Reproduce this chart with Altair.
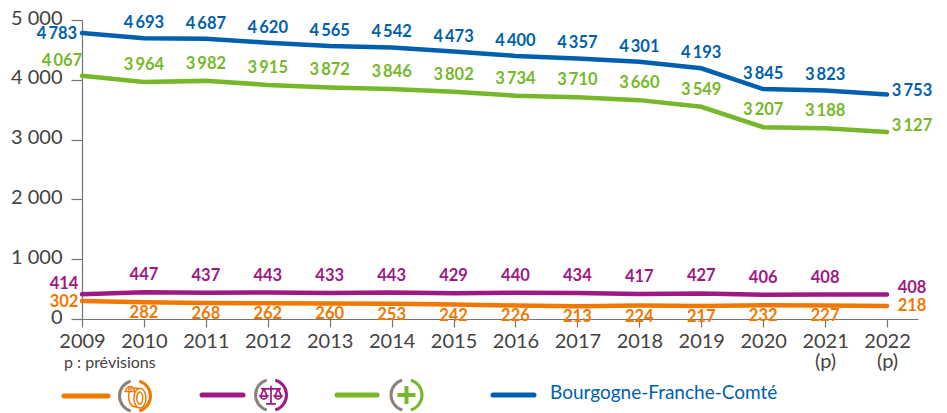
import altair as alt
import pandas as pd

years = list(range(2009, 2023))
bfc = [4783, 4693, 4687, 4620, 4565, 4542, 4473, 4400, 4357, 4301, 4193, 3845, 3823, 3753]
green = [4067, 3964, 3982, 3915, 3872, 3846, 3802, 3734, 3710, 3660, 3549, 3207, 3188, 3127]
purple = [414, 447, 437, 443, 433, 443, 429, 440, 434, 417, 427, 406, 408, 408]
orange = [302, 282, 268, 262, 260, 253, 242, 226, 213, 224, 217, 232, 227, 218]

FONT = "Lato"
C_BLUE, C_GREEN, C_PURPLE, C_ORANGE = "#0060ad", "#76b82a", "#9e1a82", "#f07800"
C_TEXT, C_AXIS, C_RING = "#454240", "#77736f", "#8c817a"

series = [
    (orange, C_ORANGE, 11, (-18, 1), (25, 0)),
    (purple, C_PURPLE, -17, (-18, -10), (25, -7)),
    (green, C_GREEN, -17, (-20, -15), (25, -6)),
    (bfc, C_BLUE, -15, (-25, 1), (25, -4)),
]

def fmt(v):
    return f"{v:,}".replace(",", "\u2009")

xscale = alt.Scale(domain=[2009, 2022.5], nice=False, zero=False)
yscale = alt.Scale(domain=[0, 5000], nice=False)

x_axis = alt.Axis(
    values=years, title=None, grid=False, labelFont=FONT, labelFontSize=20, labelColor=C_TEXT,
    domainColor=C_AXIS, tickColor=C_AXIS, tickSize=8, domainWidth=1.2, tickWidth=1.2,
    labelPadding=4, labelLineHeight=20, labelFlush=False, labelOverlap=False,
    labelExpr="datum.value >= 2021 ? [datum.value + '', '(p)'] : datum.value + ''",
)
y_axis = alt.Axis(
    values=[0, 1000, 2000, 3000, 4000, 5000], title=None, grid=False, labelFont=FONT,
    labelFontSize=20, labelColor=C_TEXT, domainColor=C_AXIS, tickColor=C_AXIS, tickSize=11,
    domainWidth=1.2, tickWidth=1.2, labelPadding=9, labelOffset=-2, labelFlush=False,
    labelExpr="replace(format(datum.value, ','), ',', ' ')",
)

layers = []
for vals, col, dy, first, last in series:
    df = pd.DataFrame({"year": years, "v": vals, "t": [fmt(v) for v in vals]})
    enc = dict(x=alt.X("year:Q", scale=xscale, axis=x_axis), y=alt.Y("v:Q", scale=yscale, axis=y_axis))
    layers.append(alt.Chart(df).mark_line(color=col, strokeWidth=4.5, strokeCap="round").encode(**enc))
    style = dict(font=FONT, fontSize=16.5, fontWeight="bold", color=col, baseline="middle")
    layers.append(alt.Chart(df.iloc[1:-1]).mark_text(dy=dy, **style).encode(text="t:N", **enc))
    layers.append(alt.Chart(df.iloc[[0]]).mark_text(dx=first[0], dy=first[1], **style).encode(text="t:N", **enc))
    layers.append(alt.Chart(df.iloc[[-1]]).mark_text(dx=last[0], dy=last[1], **style).encode(text="t:N", **enc))

# legend, placed in pixels relative to the plot origin (82, 20)
OX, OY = 82, 20
one = alt.Data(values=[{"a": 1}])

def px(v):
    return alt.value(v - OX)

def py(v):
    return alt.value(v - OY)

def swatch(x1, x2, y, col):
    return alt.Chart(one).mark_rule(color=col, strokeWidth=5, strokeCap="round").encode(
        x=px(x1), x2=px(x2), y=py(y))

def ring(cx, cy, col):
    out = []
    for t1, t2, c in [(0.28, 2.86, col), (3.42, 6.0, C_RING)]:
        out.append(alt.Chart(one).mark_arc(theta=t1, theta2=t2, radius=17, radius2=14, color=c)
                   .encode(x=px(cx), y=py(cy)))
    return out

def icon(cx, cy, path, col, size, sw=1.6, fill="transparent"):
    return alt.Chart(one).mark_point(shape=path, size=size, stroke=col, strokeWidth=sw, fill=fill, opacity=1).encode(
        x=px(cx), y=py(cy))

SCALE = ("M0 -0.85 L0 0.75 M-0.45 0.8 L0.45 0.8 M-0.9 -0.55 L0.9 -0.55 "
         "M-0.65 -0.55 L-0.95 0.1 M-0.65 -0.55 L-0.35 0.1 M-1 0.1 Q-0.65 0.65 -0.3 0.1 Z "
         "M0.65 -0.55 L0.95 0.1 M0.65 -0.55 L0.35 0.1 M1 0.1 Q0.65 0.65 0.3 0.1 Z")
TYRE = "M1 0.1 A0.55 0.9 0 1 1 -0.1 0.1 A0.55 0.9 0 1 1 1 0.1 Z M0.7 0.1 A0.27 0.55 0 1 1 0.16 0.1 A0.27 0.55 0 1 1 0.7 0.1 Z M0.3 -0.8 L-0.25 -0.8 A0.6 0.9 0 0 0 0 0.9 L0.4 1"
HELMET = "M-1 0.45 L1 0.45 M-0.8 0.4 A0.8 0.85 0 0 1 0.8 0.4 M-0.2 -0.4 L-0.2 0.2 M0.2 -0.4 L0.2 0.2"
PLUS = "M0 -1 L0 1 M-1 0 L1 0"

layers += [swatch(64, 108, 396, C_ORANGE), swatch(202, 243, 395, C_PURPLE),
           swatch(337, 377, 395, C_GREEN), swatch(493, 534, 395, C_BLUE)]
layers += ring(135, 396, C_ORANGE) + ring(271, 395, C_PURPLE) + ring(406.5, 395, C_GREEN)
layers += [
    icon(135, 397, TYRE, C_ORANGE, 480, 1.5),
    icon(130, 389, HELMET, C_ORANGE, 130, 1.3, "#fbd3ad"),
    icon(271, 395, SCALE, C_PURPLE, 484, 1.7),
    icon(406.5, 395, PLUS, C_GREEN, 324, 4),
]
layers.append(alt.Chart(one).mark_text(text="Bourgogne-Franche-Comté", font=FONT, fontSize=19, color=C_BLUE,
                                       align="left", baseline="middle").encode(x=px(550), y=py(393)))
layers.append(alt.Chart(one).mark_text(text="p : prévisions", font=FONT, fontSize=16, color=C_TEXT,
                                       align="left", baseline="middle").encode(x=px(64), y=py(363)))

chart = (
    alt.layer(*layers)
    .resolve_scale(x="shared", y="shared")
    .properties(
        width=836, height=299,
        autosize=alt.AutoSizeParams(type="none"),
        padding={"left": 74, "top": 12, "right": 20, "bottom": 94},
        background="white",
    )
    .configure_view(stroke=None)
)
chart.save("out.html", embed_options={"renderer": "svg", "actions": False})
